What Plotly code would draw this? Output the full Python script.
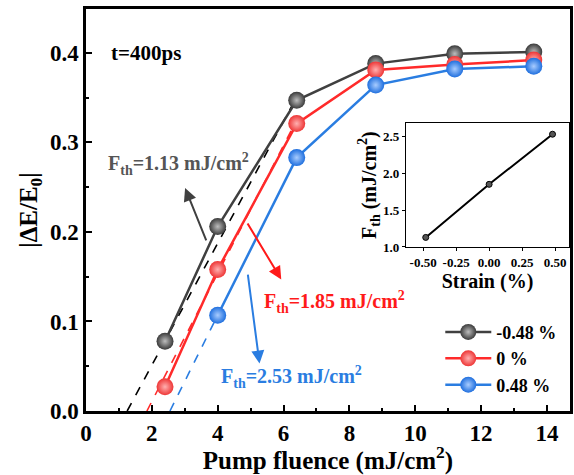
import plotly.graph_objects as go

# ---- data ----
fluence = [2.4, 4.0, 6.4, 8.8, 11.2, 13.6]
series_names = ["-0.48 %", "0 %", "0.48 %"]
dE_neg = [0.078, 0.206, 0.347, 0.388, 0.399, 0.401]
dE_zero = [0.027, 0.158, 0.321, 0.381, 0.387, 0.392]
fluence_pos = [4.0, 6.4, 8.8, 11.2, 13.6]
dE_pos = [0.107, 0.283, 0.364, 0.382, 0.385]

# linear-fit dashed lines (start at threshold on the axis, end point)
fit_x0 = [1.25, 1.85, 2.55]
fit_x1 = [6.3, 6.3, 4.0]
fit_y1 = [0.344, 0.318, 0.107]

strain = [-0.48, 0.0, 0.48]
fth = [1.13, 1.85, 2.53]
fth_labels = ["1.13", "1.85", "2.53"]

line_colors = ["#404040", "#ff2a2a", "#2a7de1"]
ball_colors = ["#3a3a3a", "#ee3535", "#1f6fde"]
ball_centers = ["#bdbdbd", "#ffb0b0", "#a8ccff"]
dash_colors = ["#000000", "#ff2a2a", "#2a7de1"]

FONT = "Liberation Serif"

fig = go.Figure()

# dashed fits
for i in range(3):
    fig.add_trace(go.Scatter(
        x=[fit_x0[i], fit_x1[i]], y=[0, fit_y1[i]], mode="lines",
        line=dict(color=dash_colors[i], width=1.6, dash="dash"),
        showlegend=False, hoverinfo="skip"))

xs = [fluence, fluence, fluence_pos]
ys = [dE_neg, dE_zero, dE_pos]
for i in range(3):
    fig.add_trace(go.Scatter(
        x=xs[i], y=ys[i], mode="lines+markers", name="<b>" + series_names[i] + "</b>",
        line=dict(color=line_colors[i], width=2.5),
        marker=dict(size=17, color=ball_colors[i],
                    gradient=dict(type="radial", color=ball_centers[i]),
                    line=dict(width=0))))

# inset
fig.add_trace(go.Scatter(
    x=strain, y=fth, mode="lines+markers", xaxis="x2", yaxis="y2",
    line=dict(color="black", width=2),
    marker=dict(size=6, color="#555", line=dict(color="black", width=1)),
    showlegend=False))

tickfont = dict(family=FONT, size=23, color="black", weight="bold")
insetfont = dict(family=FONT, size=13, color="black", weight="bold")
fig.update_layout(
    width=574, height=475,
    margin=dict(l=86, r=1, t=9, b=64),
    paper_bgcolor="white", plot_bgcolor="white",
    font=dict(family=FONT, color="black", weight="bold"),
    xaxis=dict(range=[0, 14.7], tickvals=[0, 2, 4, 6, 8, 10, 12, 14],
               ticktext=["<b>%d</b>" % v for v in [0, 2, 4, 6, 8, 10, 12, 14]],
               ticks="inside", ticklen=6, tickwidth=2, tickcolor="black",
               minor=dict(tickvals=[1, 3, 5, 7, 9, 11, 13], ticks="inside",
                          ticklen=3, tickwidth=2, tickcolor="black"),
               showline=True, linewidth=2.5, linecolor="black", mirror=True,
               showgrid=False, zeroline=False, tickfont=tickfont,
               title=dict(text="<b>Pump fluence (mJ/cm<sup>2</sup>)</b>",
                          font=dict(family=FONT, size=25, weight="bold"),
                          standoff=4)),
    yaxis=dict(range=[0, 0.449], tickvals=[0, 0.1, 0.2, 0.3, 0.4],
               ticktext=["<b>0.0</b>", "<b>0.1</b>", "<b>0.2</b>", "<b>0.3</b>", "<b>0.4</b>"],
               ticks="inside", ticklen=6, tickwidth=2, tickcolor="black",
               minor=dict(tickvals=[0.05, 0.15, 0.25, 0.35], ticks="inside",
                          ticklen=3, tickwidth=2, tickcolor="black"),
               showline=True, linewidth=2.5, linecolor="black", mirror=True,
               showgrid=False, zeroline=False, tickfont=tickfont,
               title=dict(text="<b>|ΔE/E<sub>0</sub>|</b>",
                          font=dict(family=FONT, size=25, weight="bold"),
                          standoff=6)),
    xaxis2=dict(domain=[0.661, 0.998], anchor="y2", range=[-0.63, 0.605],
                tickvals=[-0.5, -0.25, 0, 0.25, 0.5],
                ticktext=["<b>-0.50</b>", "<b>-0.25</b>", "<b>0.00</b>", "<b>0.25</b>", "<b>0.50</b>"],
                ticks="outside", ticklen=3, tickwidth=1, tickcolor="black",
                showline=True, linewidth=1.2, linecolor="black", mirror=True,
                showgrid=False, zeroline=False, tickfont=insetfont,
                title=dict(text="<b>Strain (%)</b>",
                           font=dict(family=FONT, size=20, weight="bold"),
                           standoff=4)),
    yaxis2=dict(domain=[0.408, 0.716], anchor="x2", range=[1.0, 2.68],
                tickvals=[1.0, 1.5, 2.0, 2.5],
                ticktext=["<b>1.0</b>", "<b>1.5</b>", "<b>2.0</b>", "<b>2.5</b>"],
                ticks="outside", ticklen=3, tickwidth=1, tickcolor="black",
                showline=True, linewidth=1.2, linecolor="black", mirror=True,
                showgrid=False, zeroline=False, tickfont=insetfont,
                title=dict(text="<b>F<sub>th</sub> (mJ/cm<sup>2</sup>)</b>",
                           font=dict(family=FONT, size=20, weight="bold"),
                           standoff=0)),
    legend=dict(x=0.732, y=0.242, xanchor="left", yanchor="top",
                bgcolor="rgba(0,0,0,0)", tracegroupgap=0,
                font=dict(family=FONT, size=18, weight="bold", color="black"),
                itemwidth=46),
    showlegend=True,
)

# text annotations
fig.add_annotation(x=0.7, y=0.400, xref="x", yref="y", text="<b>t=400ps</b>",
                   showarrow=False, xanchor="left",
                   font=dict(family=FONT, size=21, weight="bold", color="black"))
txt_x = [0.62, 5.35, 4.05]
txt_y = [0.276, 0.122, 0.038]
txt_col = ["#555555", "#ff1a1a", "#2a7de1"]
for i in range(3):
    fig.add_annotation(x=txt_x[i], y=txt_y[i], xref="x", yref="y",
                       text="<b>F<sub>th</sub>=" + fth_labels[i] + " mJ/cm<sup>2</sup></b>",
                       showarrow=False, xanchor="left",
                       font=dict(family=FONT, size=20, weight="bold", color=txt_col[i]))

# arrows (tail -> tip)
arr_tail = [(3.67, 0.189), (4.88, 0.211), (4.91, 0.154)]
arr_tip = [(3.01, 0.249), (5.93, 0.147), (5.27, 0.053)]
arr_col = ["#404040", "#ff1a1a", "#2a7de1"]
for i in range(3):
    fig.add_annotation(x=arr_tip[i][0], y=arr_tip[i][1],
                       ax=arr_tail[i][0], ay=arr_tail[i][1],
                       xref="x", yref="y", axref="x", ayref="y",
                       text="", showarrow=True, arrowhead=2, arrowsize=1.3,
                       arrowwidth=2, arrowcolor=arr_col[i])

fig.write_html("out.html")
